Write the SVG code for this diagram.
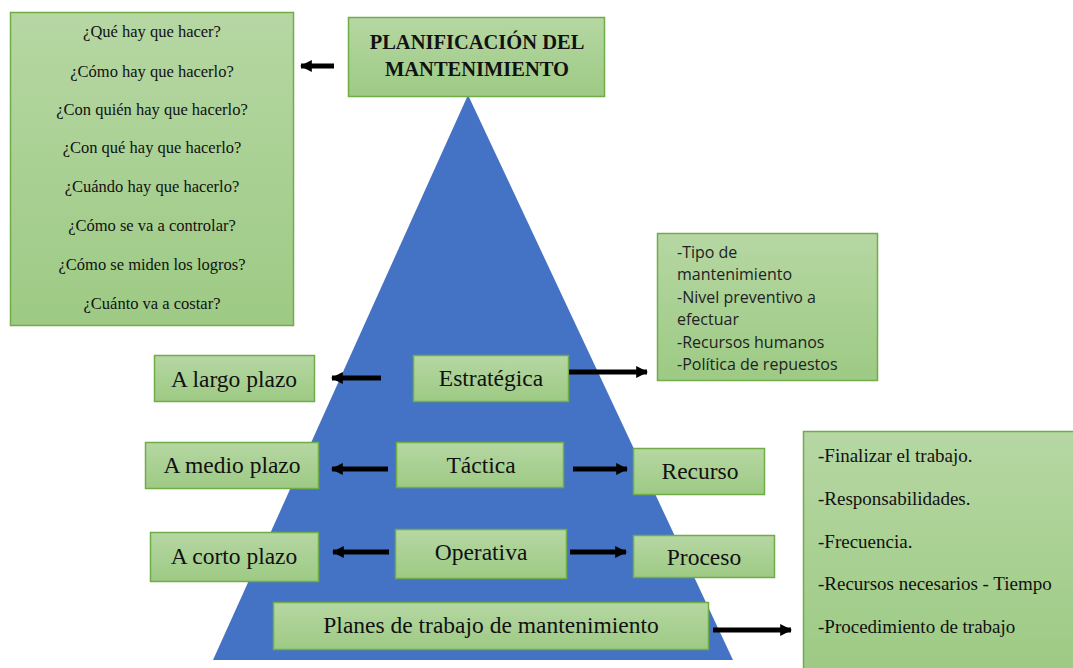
<svg xmlns="http://www.w3.org/2000/svg" width="1073" height="668" viewBox="0 0 1073 668">
<defs>
<linearGradient id="g" x1="0" y1="0" x2="0" y2="1">
<stop offset="0" stop-color="#b6d7a3"/>
<stop offset="1" stop-color="#9dca84"/>
</linearGradient>
<marker id="ah" viewBox="0 0 10 10" refX="9" refY="5" markerWidth="2.4" markerHeight="2.6" orient="auto" markerUnits="strokeWidth">
<path d="M0,0 L10,5 L0,10 Z" fill="#000"/>
</marker>
<style>
.box{fill:url(#g);stroke:#70ad47;stroke-width:1.5}
.ar{stroke:#000;stroke-width:5;fill:none;marker-end:url(#ah)}
</style>
</defs>
<rect width="1073" height="668" fill="#fff"/>
<polygon points="468,95 213,660 733,660" fill="#4472c4"/>
<g id="preguntas" text-anchor="middle" fill="#111">
<rect class="box" x="10.5" y="12.5" width="283" height="313"/>
<text x="152" y="37" font-family="'Liberation Serif', serif" font-size="16.5">¿Qué hay que hacer?</text>
<text x="152" y="77" font-family="'Liberation Serif', serif" font-size="16.5">¿Cómo hay que hacerlo?</text>
<text x="152" y="115" font-family="'Liberation Serif', serif" font-size="16.5">¿Con quién hay que hacerlo?</text>
<text x="152" y="153" font-family="'Liberation Serif', serif" font-size="16.5">¿Con qué hay que hacerlo?</text>
<text x="152" y="192" font-family="'Liberation Serif', serif" font-size="16.5">¿Cuándo hay que hacerlo?</text>
<text x="152" y="231" font-family="'Liberation Serif', serif" font-size="16.5">¿Cómo se va a controlar?</text>
<text x="152" y="270" font-family="'Liberation Serif', serif" font-size="16.5">¿Cómo se miden los logros?</text>
<text x="152" y="309" font-family="'Liberation Serif', serif" font-size="16.5">¿Cuánto va a costar?</text>
</g>
<g id="titulo" text-anchor="middle" fill="#111">
<rect class="box" x="348.5" y="17.5" width="256" height="79"/>
<text x="477" y="49" font-family="'Liberation Serif', serif" font-size="20.5" font-weight="bold">PLANIFICACIÓN DEL</text>
<text x="477" y="76" font-family="'Liberation Serif', serif" font-size="20.5" font-weight="bold">MANTENIMIENTO</text>
</g>
<g id="estrategica-detalle" fill="#222">
<rect class="box" x="657.5" y="233.5" width="220" height="147"/>
<text x="677" y="258" font-family="'Open Sans', sans-serif" font-size="16">-Tipo de</text>
<text x="677" y="280" font-family="'Open Sans', sans-serif" font-size="16">mantenimiento</text>
<text x="677" y="303" font-family="'Open Sans', sans-serif" font-size="16">-Nivel preventivo a</text>
<text x="677" y="325" font-family="'Open Sans', sans-serif" font-size="16">efectuar</text>
<text x="677" y="348" font-family="'Open Sans', sans-serif" font-size="16">-Recursos humanos</text>
<text x="677" y="370" font-family="'Open Sans', sans-serif" font-size="16">-Política de repuestos</text>
</g>
<g text-anchor="middle" fill="#111">
<g id="largo">
<rect class="box" x="154.5" y="355.5" width="160" height="46"/>
<text x="234" y="387" font-family="'Liberation Serif', serif" font-size="23.5">A largo plazo</text>
</g>
<g id="estrategica">
<rect class="box" x="413.5" y="355.5" width="155" height="46"/>
<text x="491" y="386" font-family="'Liberation Serif', serif" font-size="23.5">Estratégica</text>
</g>
<g id="medio">
<rect class="box" x="145.5" y="442.5" width="173" height="46"/>
<text x="232" y="473" font-family="'Liberation Serif', serif" font-size="23.5">A medio plazo</text>
</g>
<g id="tactica">
<rect class="box" x="396.5" y="442.5" width="167" height="45"/>
<text x="481" y="473" font-family="'Liberation Serif', serif" font-size="23.5">Táctica</text>
</g>
<g id="recurso">
<rect class="box" x="633.5" y="448.5" width="131" height="46"/>
<text x="700" y="479" font-family="'Liberation Serif', serif" font-size="23.5">Recurso</text>
</g>
<g id="corto">
<rect class="box" x="150.5" y="532.5" width="168" height="49"/>
<text x="234" y="564" font-family="'Liberation Serif', serif" font-size="23.5">A corto plazo</text>
</g>
<g id="operativa">
<rect class="box" x="395.5" y="529.5" width="171" height="49"/>
<text x="481" y="560" font-family="'Liberation Serif', serif" font-size="23.5">Operativa</text>
</g>
<g id="proceso">
<rect class="box" x="633.5" y="535.5" width="141" height="42"/>
<text x="704" y="565" font-family="'Liberation Serif', serif" font-size="23.5">Proceso</text>
</g>
<g id="planes">
<rect class="box" x="273.5" y="602.5" width="435" height="47"/>
<text x="491" y="633" font-family="'Liberation Serif', serif" font-size="23.5">Planes de trabajo de mantenimiento</text>
</g>
</g>
<g id="planes-detalle" fill="#111">
<rect class="box" x="803.5" y="431.5" width="272" height="240"/>
<text x="818" y="462" font-family="'Liberation Serif', serif" font-size="19">-Finalizar el trabajo.</text>
<text x="818" y="505" font-family="'Liberation Serif', serif" font-size="19">-Responsabilidades.</text>
<text x="818" y="548" font-family="'Liberation Serif', serif" font-size="19">-Frecuencia.</text>
<text x="818" y="590" font-family="'Liberation Serif', serif" font-size="19">-Recursos necesarios - Tiempo</text>
<text x="818" y="633" font-family="'Liberation Serif', serif" font-size="19">-Procedimiento de trabajo</text>
</g>
<g id="conectores">
<line class="ar" x1="334" y1="66" x2="301" y2="66"/>
<line class="ar" x1="381" y1="378" x2="332" y2="378"/>
<line class="ar" x1="569" y1="372" x2="647" y2="372"/>
<line class="ar" x1="388" y1="469" x2="332" y2="469"/>
<line class="ar" x1="573" y1="469" x2="627" y2="469"/>
<line class="ar" x1="389" y1="552" x2="333" y2="552"/>
<line class="ar" x1="570" y1="552" x2="626" y2="552"/>
<line class="ar" x1="713" y1="630" x2="791" y2="630"/>
</g>
</svg>
